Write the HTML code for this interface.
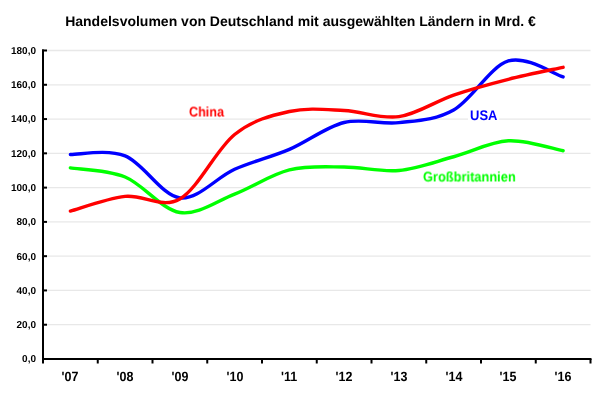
<!DOCTYPE html>
<html><head><meta charset="utf-8"><style>
html,body{margin:0;padding:0;background:#fff;}
body{width:601px;height:400px;position:relative;overflow:hidden;font-family:"Liberation Sans",sans-serif;font-weight:bold;text-rendering:geometricPrecision;}
svg{position:absolute;left:0;top:0;}
.t{will-change:transform;}
.title{position:absolute;left:0;top:13px;width:601px;text-align:center;font-size:14px;line-height:16px;white-space:nowrap;}
.yl{position:absolute;left:0;width:36px;text-align:right;font-size:10px;line-height:12px;}
.xl{position:absolute;top:370px;width:40px;text-align:center;font-size:12.5px;line-height:15px;transform:scaleY(1.07);transform-origin:50% 50%;}
.lab{position:absolute;font-size:13px;line-height:15px;background:#fff;padding:0 2px;transform:scale(0.97,1.07);transform-origin:0 50%;}
</style></head><body>
<svg width="601" height="400" viewBox="0 0 601 400">
<line x1="44" x2="590.5" y1="324.72" y2="324.72" stroke="#e8e8e8" stroke-width="1.3"/>
<line x1="44" x2="590.5" y1="290.44" y2="290.44" stroke="#e8e8e8" stroke-width="1.3"/>
<line x1="44" x2="590.5" y1="256.17" y2="256.17" stroke="#e8e8e8" stroke-width="1.3"/>
<line x1="44" x2="590.5" y1="221.89" y2="221.89" stroke="#e8e8e8" stroke-width="1.3"/>
<line x1="44" x2="590.5" y1="187.61" y2="187.61" stroke="#e8e8e8" stroke-width="1.3"/>
<line x1="44" x2="590.5" y1="153.33" y2="153.33" stroke="#e8e8e8" stroke-width="1.3"/>
<line x1="44" x2="590.5" y1="119.06" y2="119.06" stroke="#e8e8e8" stroke-width="1.3"/>
<line x1="44" x2="590.5" y1="84.78" y2="84.78" stroke="#e8e8e8" stroke-width="1.3"/>
<line x1="44" x2="590.5" y1="50.50" y2="50.50" stroke="#e8e8e8" stroke-width="1.3"/>
<path d="M70.38,167.90 C79.50,169.42 106.88,169.56 125.12,176.98 C143.38,184.41 161.62,209.61 179.88,212.46 C198.12,215.32 216.38,201.21 234.62,194.12 C252.88,187.04 271.12,174.47 289.38,169.96 C307.62,165.44 325.88,166.96 344.12,167.04 C362.38,167.13 380.62,172.19 398.88,170.47 C417.12,168.76 435.38,161.70 453.62,156.76 C471.88,151.82 490.12,141.82 508.38,140.82 C526.62,139.82 554.00,149.11 563.12,150.76" fill="none" stroke="#00ff00" stroke-width="3.4" stroke-linecap="round" stroke-linejoin="round"/>
<path d="M70.38,154.53 C79.50,154.76 106.88,148.68 125.12,155.90 C143.38,163.13 161.62,195.67 179.88,197.89 C198.12,200.12 216.38,177.36 234.62,169.27 C252.88,161.19 271.12,157.19 289.38,149.39 C307.62,141.59 325.88,126.94 344.12,122.48 C362.38,118.03 380.62,124.74 398.88,122.65 C417.12,120.57 435.38,120.26 453.62,109.97 C471.88,99.69 490.12,66.47 508.38,60.95 C526.62,55.44 554.00,74.24 563.12,76.89" fill="none" stroke="#0000ff" stroke-width="3.4" stroke-linecap="round" stroke-linejoin="round"/>
<path d="M70.38,211.09 C79.50,208.63 106.88,198.38 125.12,196.35 C143.38,194.32 161.62,209.23 179.88,198.92 C198.12,188.61 216.38,149.05 234.62,134.48 C252.88,119.91 271.12,115.51 289.38,111.51 C307.62,107.52 325.88,109.63 344.12,110.49 C362.38,111.34 380.62,119.23 398.88,116.66 C417.12,114.09 435.38,101.29 453.62,95.06 C471.88,88.83 490.12,83.92 508.38,79.29 C526.62,74.67 554.00,69.30 563.12,67.30" fill="none" stroke="#ff0000" stroke-width="3.4" stroke-linecap="round" stroke-linejoin="round"/>
<line x1="43" x2="43" y1="49.5" y2="360" stroke="#000" stroke-width="2"/>
<line x1="42" x2="591.5" y1="359" y2="359" stroke="#000" stroke-width="2"/>
<line x1="42" x2="47" y1="359.00" y2="359.00" stroke="#000" stroke-width="2"/>
<line x1="42" x2="47" y1="324.72" y2="324.72" stroke="#000" stroke-width="2"/>
<line x1="42" x2="47" y1="290.44" y2="290.44" stroke="#000" stroke-width="2"/>
<line x1="42" x2="47" y1="256.17" y2="256.17" stroke="#000" stroke-width="2"/>
<line x1="42" x2="47" y1="221.89" y2="221.89" stroke="#000" stroke-width="2"/>
<line x1="42" x2="47" y1="187.61" y2="187.61" stroke="#000" stroke-width="2"/>
<line x1="42" x2="47" y1="153.33" y2="153.33" stroke="#000" stroke-width="2"/>
<line x1="42" x2="47" y1="119.06" y2="119.06" stroke="#000" stroke-width="2"/>
<line x1="42" x2="47" y1="84.78" y2="84.78" stroke="#000" stroke-width="2"/>
<line x1="42" x2="47" y1="50.50" y2="50.50" stroke="#000" stroke-width="2"/>
<line x1="43.00" x2="43.00" y1="359" y2="363.5" stroke="#000" stroke-width="2"/>
<line x1="97.75" x2="97.75" y1="359" y2="363.5" stroke="#000" stroke-width="2"/>
<line x1="152.50" x2="152.50" y1="359" y2="363.5" stroke="#000" stroke-width="2"/>
<line x1="207.25" x2="207.25" y1="359" y2="363.5" stroke="#000" stroke-width="2"/>
<line x1="262.00" x2="262.00" y1="359" y2="363.5" stroke="#000" stroke-width="2"/>
<line x1="316.75" x2="316.75" y1="359" y2="363.5" stroke="#000" stroke-width="2"/>
<line x1="371.50" x2="371.50" y1="359" y2="363.5" stroke="#000" stroke-width="2"/>
<line x1="426.25" x2="426.25" y1="359" y2="363.5" stroke="#000" stroke-width="2"/>
<line x1="481.00" x2="481.00" y1="359" y2="363.5" stroke="#000" stroke-width="2"/>
<line x1="535.75" x2="535.75" y1="359" y2="363.5" stroke="#000" stroke-width="2"/>
<line x1="590.50" x2="590.50" y1="359" y2="363.5" stroke="#000" stroke-width="2"/>
</svg>
<div class="title t">Handelsvolumen von Deutschland mit ausgewählten Ländern in Mrd. €</div>
<div class="yl t" style="top:354.40px">0,0</div>
<div class="yl t" style="top:320.12px">20,0</div>
<div class="yl t" style="top:285.84px">40,0</div>
<div class="yl t" style="top:251.57px">60,0</div>
<div class="yl t" style="top:217.29px">80,0</div>
<div class="yl t" style="top:183.01px">100,0</div>
<div class="yl t" style="top:148.73px">120,0</div>
<div class="yl t" style="top:114.46px">140,0</div>
<div class="yl t" style="top:80.18px">160,0</div>
<div class="yl t" style="top:45.90px">180,0</div>
<div class="xl t" style="left:50.38px">'07</div>
<div class="xl t" style="left:105.12px">'08</div>
<div class="xl t" style="left:159.88px">'09</div>
<div class="xl t" style="left:214.62px">'10</div>
<div class="xl t" style="left:269.38px">'11</div>
<div class="xl t" style="left:324.12px">'12</div>
<div class="xl t" style="left:378.88px">'13</div>
<div class="xl t" style="left:433.62px">'14</div>
<div class="xl t" style="left:488.38px">'15</div>
<div class="xl t" style="left:543.12px">'16</div>
<div class="lab t" style="left:187.4px;top:104.3px;color:#ff0000;background:transparent">China</div>
<div class="lab t" style="left:468px;top:108px;color:#0000ff;transform:scale(1,1.07)">USA</div>
<div class="lab t" style="left:421.4px;top:168.5px;color:#00ff00;transform:scale(0.988,1.07)">Großbritannien</div>
</body></html>
